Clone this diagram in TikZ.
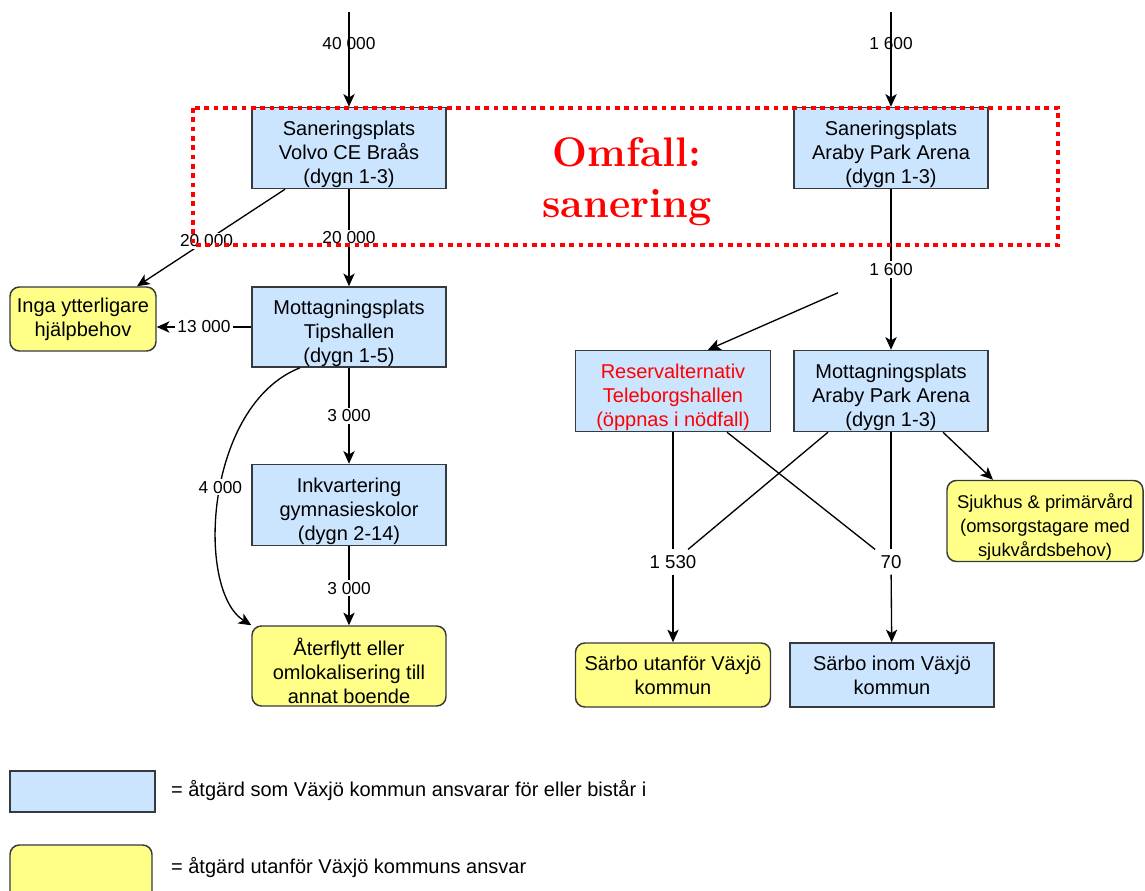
\documentclass[tikz,border=0pt]{standalone}
\usepackage{fontspec}
\setsansfont{Liberation Sans}
\usetikzlibrary{arrows.meta}
\definecolor{boxblue}{RGB}{204,229,255}
\definecolor{boxyellow}{RGB}{255,255,136}
\definecolor{boxline}{RGB}{54,57,61}
\definecolor{alarmred}{RGB}{255,0,0}

\begin{document}
\begin{tikzpicture}[x=0.75pt,y=-0.75pt,
  kommun/.style={draw=boxline,fill=boxblue,line width=1.1pt,minimum width=145.5pt,minimum height=60.75pt,
    inner sep=0.5pt,align=center,font=\sffamily\fontsize{15}{18}\selectfont},
  extern/.style={kommun,fill=boxyellow,rounded corners=7pt},
  trerad/.style={text height=56pt},
  arr/.style={-{Stealth[length=9.5pt,width=8.5pt,inset=2.5pt]}},
  lbl/.style={fill=white,inner sep=1.5pt,font=\sffamily\fontsize{13}{15}\selectfont},
  lblclear/.style={lbl,fill=none},
  lblbig/.style={inner sep=4pt,font=\sffamily\fontsize{14}{16}\selectfont},
  line width=1pt]
\useasboundingbox (0,0) rectangle (1145,891);
%\draw [color=gray, very thin] (0,0) grid[step=50] (1145,891);
\node[kommun,trerad] (s1) at (349,148) {Saneringsplats\\Volvo CE Braås\\(dygn 1-3)};
\node[kommun,trerad] (s2) at (891,148) {Saneringsplats\\Araby Park Arena\\(dygn 1-3)};
\node[extern,minimum width=109.5pt,minimum height=48pt] (inga) at (83,319) {Inga ytterligare\\hjälpbehov};
\node[kommun,trerad,minimum height=60pt] (m1) at (349,327) {Mottagningsplats\\Tipshallen\\(dygn 1-5)};
\node[kommun,trerad] (ink) at (349,505) {Inkvartering\\gymnasieskolor\\(dygn 2-14)};
\node[extern,trerad,minimum height=60pt] (ater) at (349,666) {Återflytt eller\\omlokalisering till\\annat boende};
\node[kommun,trerad,text=alarmred,minimum width=146.25pt] (reserv) at (673,391) {Reservalternativ\\Teleborgshallen\\(öppnas i nödfall)};
\node[kommun,trerad] (m2) at (891,391) {Mottagningsplats\\Araby Park Arena\\(dygn 1-3)};
\node[extern,trerad,minimum width=147pt,inner sep=0pt,font=\sffamily\fontsize{13.8}{18}\selectfont] (sjuk) at (1045,521) {Sjukhus \& primärvård\\(omsorgstagare med\\sjukvårdsbehov)};
\node[extern,minimum width=146.25pt,minimum height=48pt] (utan) at (673,675) {Särbo utanför Växjö\\kommun};
\node[kommun,minimum width=153pt,minimum height=48pt] (inom) at (892,675) {Särbo inom Växjö\\kommun};

% left chain
\coordinate (in1) at (349,12);
\coordinate (in2) at (891,12);
\draw[arr] (in1) -- node[lblclear,pos=0.33] {40 000} (s1);
\draw[arr] ([xshift=-48pt]s1.south) -- node[lbl,pos=0.53] {20 000} ([xshift=40.5pt]inga.north);
\draw[arr] (s1) -- node[lbl] {20 000} (m1);
\draw[arr] (m1.west) -- node[lbl] {13 000} (m1.west -| inga.east);
\draw[arr] (m1) -- node[lbl] {3 000} (ink);
\draw[arr] (ink) -- node[lbl,pos=0.53] {3 000} (ater);
\draw[arr] ([xshift=-36.75pt]m1.south) .. controls (205,405) and (195,590) .. node[lbl,pos=0.47] {4 000} (ater.north west);

% right chain
\draw[arr] (in2) -- node[lblclear,pos=0.33] {1 600} (s2);
\draw[arr] (s2) -- node[lbl] (n1600) {1 600} (m2);
\draw[arr,shorten <=27pt] (n1600) -- ([xshift=26.25pt]reserv.north);
\node[lblbig] (n1530) at (673,562) {1 530};
\node[lblbig] (n70) at (891,562) {70};
\draw (reserv) -- (n1530);
\draw ([xshift=40.5pt]reserv.south) -- (n70);
\draw ([xshift=-47.25pt]m2.south) -- (n1530);
\draw (m2) -- (n70);
\draw[arr] (n1530) -- (utan);
\draw[arr] (n70) -- (inom);
\draw[arr] ([xshift=39pt]m2.south) -- ([xshift=-39pt]sjuk.north);

% legend
\node[kommun,minimum width=108.75pt,minimum height=30.75pt] (legk) at (82.5,791.5) {};
\node[anchor=west,font=\sffamily\fontsize{15}{18}\selectfont] (legktext) at (166,791) {= åtgärd som Växjö kommun ansvarar för eller bistår i};
\node[extern,minimum width=106.5pt,minimum height=45pt] (lege) at (81,875) {};
\node[anchor=west,font=\sffamily\fontsize{15}{18}\selectfont] (legetext) at (166,868) {= åtgärd utanför Växjö kommuns ansvar};

% scenario frame
\node[text=alarmred,font=\bfseries\fontsize{31}{38}\selectfont,align=center] (titel) at (627,182) {Omfall:\\sanering};
\draw[alarmred,line width=3pt,dash pattern=on 3.5pt off 3.5pt] (193,108) rectangle (1058,245);
\end{tikzpicture}
\end{document}
